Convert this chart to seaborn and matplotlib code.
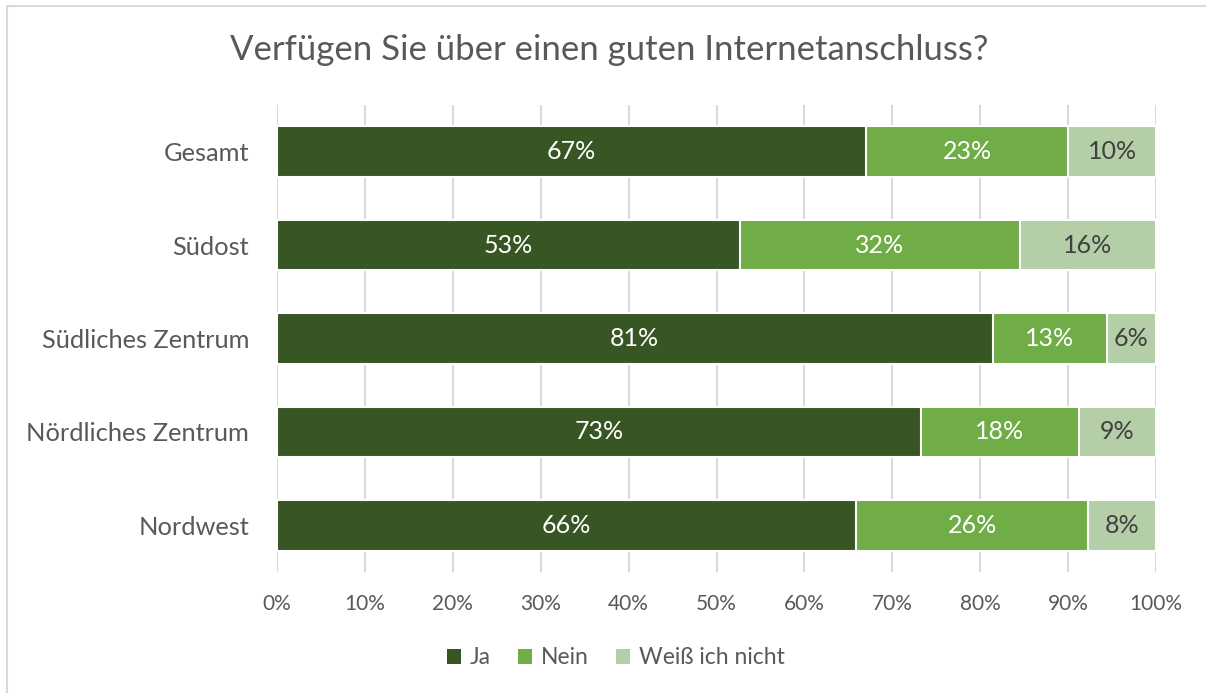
import matplotlib
matplotlib.use("Agg")
import matplotlib.pyplot as plt
from matplotlib.patches import Patch, Rectangle
import numpy as np
import pandas as pd
import seaborn as sns

# Survey results (share of respondents, in percent)
regions = ["Gesamt", "Südost", "Südliches Zentrum", "Nördliches Zentrum", "Nordwest"]
ja = [67.0, 52.7, 81.4, 73.3, 65.9]
nein = [23.0, 31.8, 13.0, 17.9, 26.4]
weiss_nicht = [10.0, 15.5, 5.6, 8.8, 7.7]
series_names = ["Ja", "Nein", "Weiß ich nicht"]
x_ticks = [0, 10, 20, 30, 40, 50, 60, 70, 80, 90, 100]
title = "Verfügen Sie über einen guten Internetanschluss?"

colors = ["#375623", "#70AD47", "#B4CFA7"]
label_colors = ["white", "white", "#404040"]
text_gray = "#595959"

sns.set_theme(style="white")
plt.rcParams["font.family"] = ["Lato", "DejaVu Sans"]

W, H = 1206, 693
fig = plt.figure(figsize=(W / 100, H / 100), dpi=100)
ax = fig.add_axes([277 / W, 1 - 572 / H, (1156 - 277) / W, (572 - 105) / H])

df = pd.DataFrame({"region": regions, "Ja": ja, "Nein": nein, "Weiß ich nicht": weiss_nicht})
parts = df[series_names].to_numpy()
cum = np.cumsum(parts, axis=1)

# Stacked bars: draw cumulative totals from the outermost segment inward
for k in range(len(series_names) - 1, -1, -1):
    plot_df = pd.DataFrame({"region": regions, "value": cum[:, k]})
    sns.barplot(data=plot_df, x="value", y="region", orient="h", order=regions,
                color=colors[k], saturation=1, width=0.54,
                edgecolor="white", linewidth=1.5, ax=ax, zorder=3)

# Segment labels centred in each segment
for i in range(len(regions)):
    left = 0.0
    for k in range(len(series_names)):
        v = parts[i, k]
        ax.text(left + v / 2, i, f"{v:.0f}%", ha="center", va="center",
                color=label_colors[k], fontsize=18, zorder=5)
        left += v

ax.set_xlim(0, 100)
ax.set_ylim(len(regions) - 0.5, -0.5)
ax.set_xticks(x_ticks)
ax.set_xticklabels([f"{t}%" for t in x_ticks], color=text_gray, fontsize=15)
ax.tick_params(axis="x", length=0, pad=16)
ax.tick_params(axis="y", length=0, pad=20, labelsize=18.3, labelcolor=text_gray)
ax.set_xlabel("")
ax.set_ylabel("")
ax.grid(axis="x", color="#D9D9D9", linewidth=1.5, zorder=0)
ax.set_axisbelow(True)
for s in ax.spines.values():
    s.set_visible(False)

fig.text(609 / W, 1 - 50 / H, title, ha="center", va="center", fontsize=25, color=text_gray)

handles = [Patch(facecolor=c, edgecolor="none") for c in colors]
fig.legend(handles, series_names, loc="center", bbox_to_anchor=(616 / W, 1 - 658 / H),
           ncol=3, frameon=False, fontsize=16.5, labelcolor=text_gray,
           handlelength=0.6, handleheight=0.6, handletextpad=0.4, columnspacing=1.2)

# Chart area frame
fig.patches.append(Rectangle((7 / W, -0.1), 1.2, 1 - 6 / H + 0.1, transform=fig.transFigure,
                             fill=False, edgecolor="#D9D9D9", linewidth=1.5))

fig.savefig("out.png", dpi=100)
